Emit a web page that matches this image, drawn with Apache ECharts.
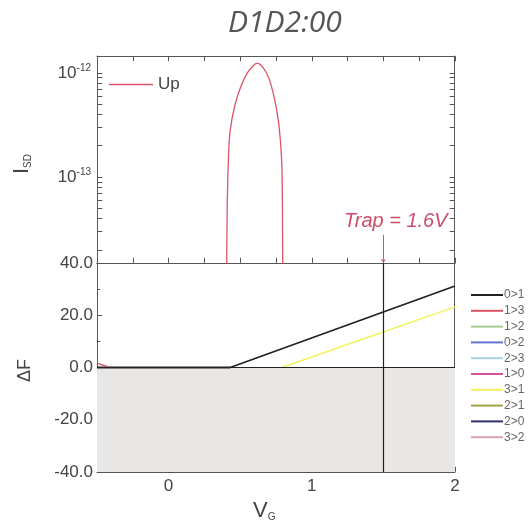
<!DOCTYPE html>
<html>
<head>
<meta charset="utf-8">
<script src="https://cdn.jsdelivr.net/npm/echarts@6/dist/echarts.min.js"></script>
<style>
  html, body { margin: 0; padding: 0; background: #fff; }
  #chart { width: 529px; height: 530px; }
</style>
</head>
<body>
<div id="chart"></div>
<script>
// top panel: I_SD (log) vs V_G
const upV = [0.400, 0.405, 0.41, 0.42, 0.43, 0.46, 0.50, 0.55, 0.60, 0.62, 0.66, 0.70, 0.74, 0.77, 0.79, 0.795, 0.80]
const upI = [1e-15, 1e-14, 6e-14, 1.8e-13, 2.8e-13, 4.7e-13, 7.1e-13, 1.0e-12, 1.2e-12, 1.23e-12, 1.12e-12, 8.9e-13, 5.6e-13, 3.2e-13, 1.4e-13, 5e-14, 1e-15]

// bottom panel: ΔF vs V_G, one list per transition
const transNames = ['0>1', '1>3', '1>2', '0>2', '2>3', '1>0', '3>1', '2>1', '2>0', '3>2']
const transColors = ['#222222', '#d9546a', '#a9c98f', '#6572d4', '#a6d4dc', '#d452a6', '#f2f25a', '#a3a344', '#30306e', '#d4a5b4']
const transData = [
    [[-0.5, 0], [0.43, 0], [2, 31.2]],
    [[-0.5, 1.7], [-0.41, 0]],
    [], [], [], [],
    [[0.79, 0], [2, 23.2]],
    [], [], []
]

const logTicks = [2e-14, 3e-14, 4e-14, 5e-14, 6e-14, 7e-14, 8e-14, 9e-14, 1e-13, 2e-13, 3e-13, 4e-13, 5e-13, 6e-13, 7e-13, 8e-13, 9e-13, 1e-12]
const logLabels = [1e-13, 1e-12]
const trapV = 1.5

const chart = echarts.init(document.getElementById('chart'))
const axisColor = '#555'
const labelColor = '#444'
const hiddenSplit = { show: true, lineStyle: { opacity: 0 } }
const blankLabel = { show: true, formatter: () => '' }

// the frame axes sit "on zero" of hidden helper axes whose zero is at a grid edge
// x helpers: 4 grid0-left, 5 grid0-right, 6 grid1-left, 7 grid1-right
// y helpers: 4 grid0-bottom, 5 grid0-top, 6 grid1-bottom, 7 grid1-top
const helper = (gridIndex, atStart) => ({
    type: 'value', gridIndex, show: false,
    min: atStart ? -0.001 : -1, max: atStart ? 1 : 0.001
})
const line = idx => ({ show: true, onZero: true, onZeroAxisIndex: idx, lineStyle: { color: axisColor } })

const series = [{
    name: 'Up',
    type: 'line',
    xAxisIndex: 0,
    yAxisIndex: 0,
    data: upV.map((v, i) => [v, upI[i]]),
    showSymbol: false,
    symbol: 'none',
    smooth: 0.3,
    lineStyle: { color: '#d9546a', width: 1.3 },
    itemStyle: { color: '#d9546a' },
    markLine: {
        silent: true,
        symbol: ['none', 'arrow'],
        symbolSize: 4,
        label: { show: false },
        lineStyle: { color: '#d9546a', width: 1, type: 'solid' },
        data: [[{ coord: [trapV, 2.8e-14] }, { coord: [trapV, 1.5e-14] }]]
    }
}]

transNames.forEach((name, i) => {
    const s = {
        name,
        type: 'line',
        xAxisIndex: 2,
        yAxisIndex: 2,
        data: transData[i],
        showSymbol: false,
        symbol: 'none',
        lineStyle: { color: transColors[i], width: i === 0 ? 1.8 : 1.4 },
        itemStyle: { color: transColors[i] },
        z: 3
    }
    if (i === 0) {
        s.markArea = {
            silent: true,
            itemStyle: { color: '#e9e7e5' },
            data: [[{ yAxis: -40 }, { yAxis: 0 }]]
        }
        s.markLine = {
            silent: true,
            symbol: 'none',
            label: { show: false },
            lineStyle: { color: '#222', width: 1.2, type: 'solid' },
            data: [{ yAxis: 0 }, { xAxis: trapV }]
        }
    }
    series.push(s)
})

function xAxisFor(gridIndex, position, interval, zeroIdx, label, tick) {
    return {
        type: 'value', gridIndex, position, min: -0.5, max: 2, interval,
        axisLine: line(zeroIdx),
        axisTick: tick === false ? { show: false } : { show: true, inside: true, length: 5 },
        splitLine: hiddenSplit,
        axisLabel: label || blankLabel
    }
}

chart.setOption({
    animation: false,
    backgroundColor: '#fff',
    title: {
        text: 'D1D2:00',
        left: 223,
        top: 3,
        textStyle: { fontFamily: 'Open Sans', fontStyle: 'italic', fontWeight: 'normal', fontSize: 30, color: '#555' }
    },
    grid: [
        { left: 97, right: 74, top: 56, height: 207, show: false },
        { left: 97, right: 74, top: 263, height: 209, show: false }
    ],
    xAxis: [
        xAxisFor(0, 'bottom', 0.25, 4),
        xAxisFor(0, 'top', 0.25, 5),
        xAxisFor(1, 'bottom', 0.5, 6, {
            show: true, color: labelColor, fontSize: 17, fontFamily: 'Liberation Sans', margin: 6,
            formatter: v => (Math.abs(v - Math.round(v)) < 1e-9 ? String(Math.round(v)) : '')
        }),
        xAxisFor(1, 'top', 0.5, 7, null, false),
        helper(0, true), helper(0, false), helper(1, true), helper(1, false)
    ],
    yAxis: [
        {
            type: 'log', gridIndex: 0, min: 1.5e-14, max: 1.45e-12, position: 'left',
            axisLine: line(4),
            axisTick: { show: true, inside: true, length: 5, customValues: logTicks },
            splitLine: hiddenSplit,
            axisLabel: {
                show: true, customValues: logLabels, margin: 6,
                formatter: v => '{b|10}{s|' + Math.round(Math.log10(v)) + '}',
                rich: {
                    b: { fontSize: 17, color: labelColor, fontFamily: 'Liberation Sans' },
                    s: { fontSize: 10, color: labelColor, fontFamily: 'Liberation Sans', padding: [0, 0, 10, 0] }
                }
            }
        },
        {
            type: 'log', gridIndex: 0, min: 1.5e-14, max: 1.45e-12, position: 'right',
            axisLine: line(5),
            axisTick: { show: true, inside: true, length: 5, customValues: logTicks },
            splitLine: hiddenSplit,
            axisLabel: blankLabel
        },
        {
            type: 'value', gridIndex: 1, min: -40, max: 40, interval: 20, position: 'left',
            axisLine: line(6),
            axisTick: { show: true, inside: true, length: 5 },
            minorTick: { show: true, splitNumber: 2, length: 3 },
            splitLine: hiddenSplit,
            axisLabel: {
                color: labelColor, fontSize: 17, fontFamily: 'Liberation Sans', margin: 4,
                formatter: v => v.toFixed(1)
            }
        },
        {
            type: 'value', gridIndex: 1, min: -40, max: 40, interval: 20, position: 'right',
            axisLine: line(7),
            axisTick: { show: false },
            splitLine: { show: false },
            axisLabel: { show: false }
        },
        helper(0, true), helper(0, false), helper(1, true), helper(1, false)
    ],
    legend: [
        {
            data: ['Up'],
            left: 104, top: 71,
            icon: 'rect', itemWidth: 44, itemHeight: 1.5, itemGap: 4,
            textStyle: { fontSize: 17, color: labelColor, fontFamily: 'Liberation Sans' },
            selectedMode: false
        },
        {
            data: transNames,
            orient: 'vertical',
            left: 466, top: 284,
            icon: 'rect', itemWidth: 32, itemHeight: 2, itemGap: 3.8,
            textStyle: { fontSize: 12, color: '#666', fontFamily: 'Liberation Sans', padding: [0, 0, 0, -4] },
            selectedMode: false
        }
    ],
    graphic: [
        {
            type: 'text', left: 344, top: 211, z: 10,
            style: { text: 'Trap = 1.6V', fontSize: 20, fontStyle: 'italic', fontFamily: 'Liberation Sans', fill: '#cc4d6a' }
        },
        {
            type: 'text', x: 11, y: 174, rotation: Math.PI / 2,
            style: {
                text: '{a|I}{b|SD}',
                rich: {
                    a: { fontSize: 22, fill: labelColor, fontFamily: 'Liberation Sans' },
                    b: { fontSize: 10, fill: labelColor, fontFamily: 'Liberation Sans', padding: [12, 0, 0, 0] }
                }
            }
        },
        {
            type: 'text', x: 16, y: 382, rotation: Math.PI / 2,
            style: { text: 'ΔF', fontSize: 18, fill: labelColor, fontFamily: 'Liberation Sans' }
        },
        {
            type: 'text', left: 253, top: 500,
            style: {
                text: '{a|V}{b|G}',
                rich: {
                    a: { fontSize: 22, fill: labelColor, fontFamily: 'Liberation Sans' },
                    b: { fontSize: 10, fill: labelColor, fontFamily: 'Liberation Sans', padding: [12, 0, 0, 0] }
                }
            }
        }
    ],
    series
})
</script>
</body>
</html>
